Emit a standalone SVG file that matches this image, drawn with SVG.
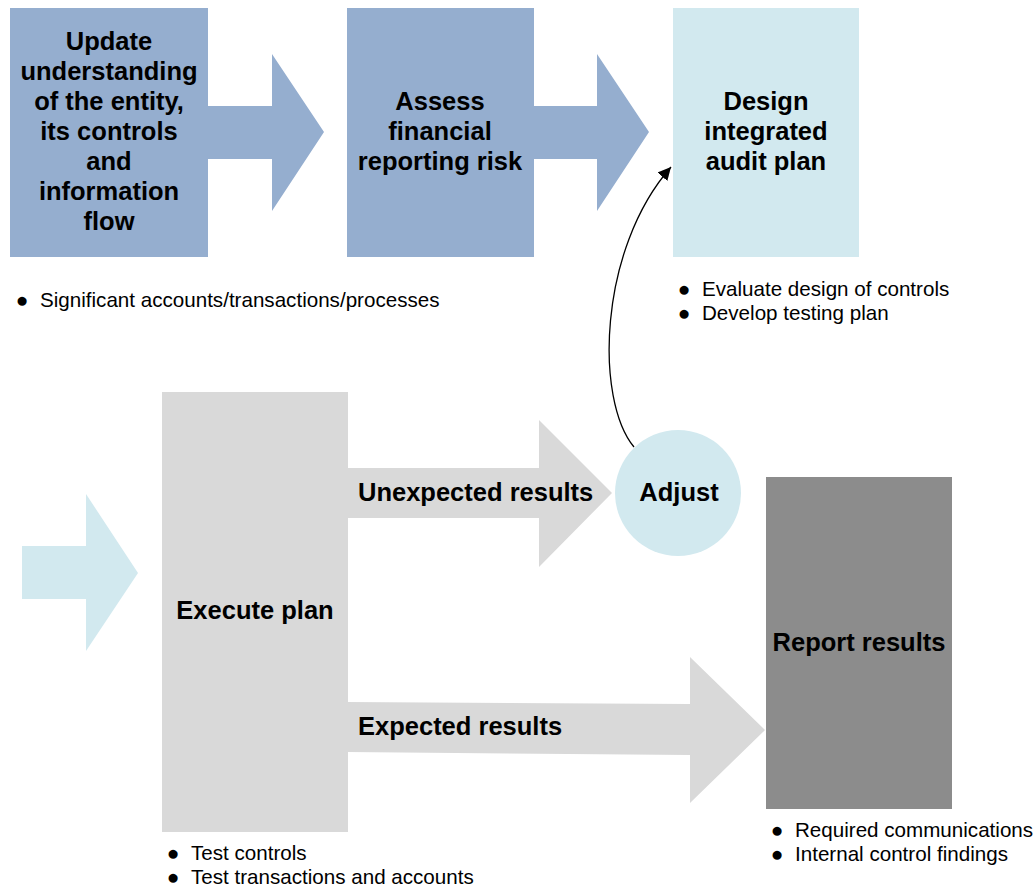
<svg xmlns="http://www.w3.org/2000/svg" width="1034" height="887" viewBox="0 0 1034 887">
<defs>
<style>
.t{font-family:"Liberation Sans",Arial,sans-serif;font-weight:bold;font-size:25.5px;fill:#000;text-anchor:middle}
.tl{font-family:"Liberation Sans",Arial,sans-serif;font-weight:bold;font-size:25.5px;fill:#000}
.b{font-family:"Liberation Sans",Arial,sans-serif;font-size:20.6px;fill:#000}
.d{font-family:"Liberation Sans",Arial,sans-serif;font-size:21px;fill:#000;text-anchor:middle}
.blue{fill:#95aecf}
.lblue{fill:#d2e9ef}
.gray{fill:#d9d9d9}
.dgray{fill:#8c8c8c}
</style>
<marker id="ah" viewBox="0 0 10 10" refX="10" refY="5" markerWidth="13" markerHeight="13" markerUnits="userSpaceOnUse" orient="auto">
<path d="M0,0 L10,5 L0,10 z" fill="#000"/>
</marker>
</defs>
<rect width="1034" height="887" fill="#fff"/>
<g id="connectors">
<polygon class="blue" points="208,106 272,106 272,54 324,132 272,211 272,159 208,159"/>
<polygon class="blue" points="534,106 597,106 597,54 649,132 597,211 597,159 534,159"/>
<polygon class="lblue" points="22,546 86,546 86,494 138,573 86,651 86,599 22,599"/>
<polygon class="gray" points="347,468 539,468 539,420 612,493 539,567 539,518 347,518"/>
<polygon class="gray" points="347,702 690,704 690,657 765,730 690,803 690,755 347,752"/>
<path d="M634,447 C595,400 598,250 671,167" fill="none" stroke="#000" stroke-width="1.3" marker-end="url(#ah)"/>
<text class="tl" x="358" y="501">Unexpected results</text>
<text class="tl" x="358" y="735">Expected results</text>
</g>
<g id="update">
<rect class="blue" x="10" y="8" width="198" height="249"/>
<text class="t" x="109" y="50">Update</text>
<text class="t" x="109" y="80">understanding</text>
<text class="t" x="109" y="110">of the entity,</text>
<text class="t" x="109" y="140">its controls</text>
<text class="t" x="109" y="170">and</text>
<text class="t" x="109" y="200">information</text>
<text class="t" x="109" y="230">flow</text>
<text class="d" x="22" y="307">●</text>
<text class="b" x="40" y="307">Significant accounts/transactions/processes</text>
</g>
<g id="assess">
<rect class="blue" x="347" y="8" width="187" height="249"/>
<text class="t" x="440" y="110">Assess</text>
<text class="t" x="440" y="140">financial</text>
<text class="t" x="440" y="170">reporting risk</text>
</g>
<g id="design">
<rect class="lblue" x="673" y="8" width="186" height="249"/>
<text class="t" x="766" y="110">Design</text>
<text class="t" x="766" y="140">integrated</text>
<text class="t" x="766" y="170">audit plan</text>
<text class="d" x="684" y="296">●</text>
<text class="b" x="702" y="296">Evaluate design of controls</text>
<text class="d" x="684" y="320">●</text>
<text class="b" x="702" y="320">Develop testing plan</text>
</g>
<g id="execute">
<rect class="gray" x="162" y="392" width="186" height="440"/>
<text class="t" x="255" y="619">Execute plan</text>
<text class="d" x="173" y="860">●</text>
<text class="b" x="191" y="860">Test controls</text>
<text class="d" x="173" y="884">●</text>
<text class="b" x="191" y="884">Test transactions and accounts</text>
</g>
<g id="adjust">
<circle class="lblue" cx="678" cy="493" r="63"/>
<text class="t" x="679" y="501">Adjust</text>
</g>
<g id="report">
<rect class="dgray" x="766" y="477" width="186" height="332"/>
<text class="t" x="859" y="651">Report results</text>
<text class="d" x="777" y="837">●</text>
<text class="b" x="795" y="837">Required communications</text>
<text class="d" x="777" y="861">●</text>
<text class="b" x="795" y="861">Internal control findings</text>
</g>
</svg>
